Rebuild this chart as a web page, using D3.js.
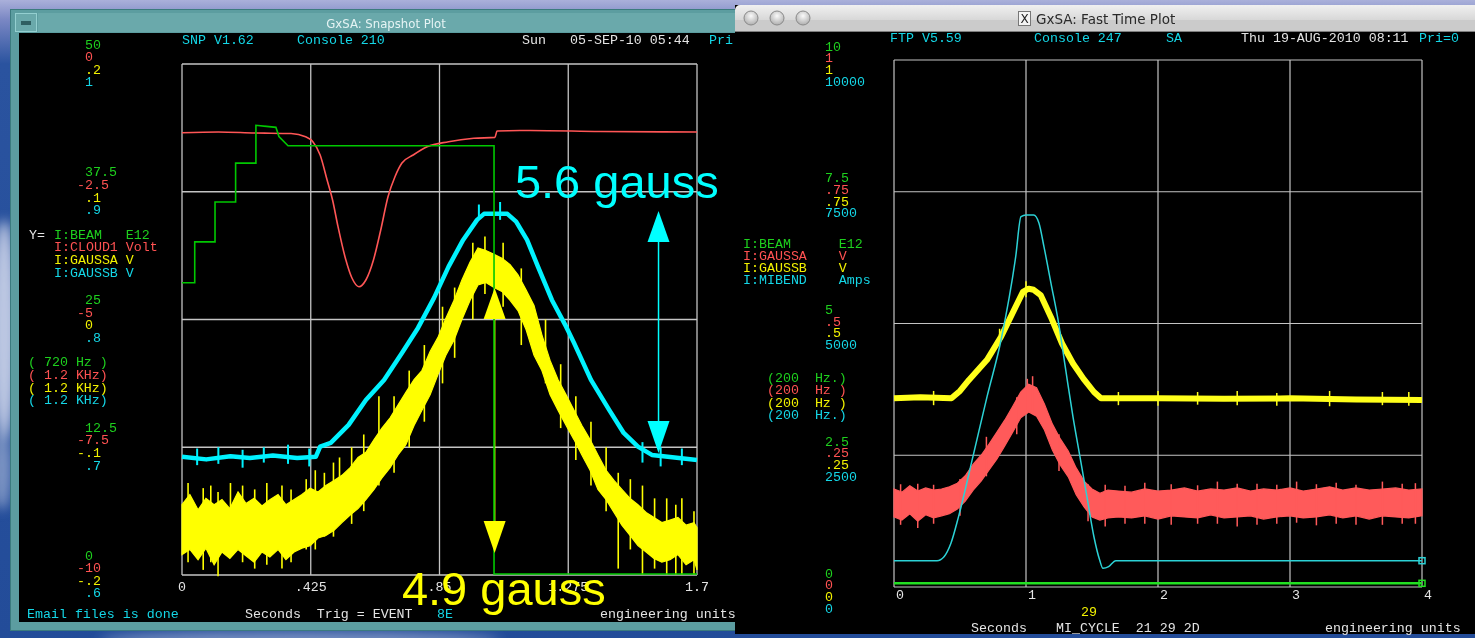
<!DOCTYPE html>
<html>
<head>
<meta charset="utf-8">
<script src="https://cdn.jsdelivr.net/npm/d3@7"></script>
<style>
  html, body { margin: 0; padding: 0; background: #1f4a98; overflow: hidden; }
  text { white-space: pre; }
</style>
</head>
<body>
<div id="chart"></div>
<script>
// ── left window: GxSA Snapshot Plot (x in seconds) ─────────────────
const leftXTicks   = [0, 0.425, 0.85, 1.275, 1.7]
const leftXLabels  = ['0', '.425', '.85', '1.275', '1.7']
const leftBeamTicks  = [0, 12.5, 25, 37.5, 50]
const leftBeamLabels = ['0', '12.5', '25', '37.5', '50']
const leftCloudLabels  = ['-10', '-7.5', '-5', '-2.5', '0']
const leftGaussALabels = ['-.2', '-.1', '0', '.1', '.2']
const leftGaussBLabels = ['.6', '.7', '.8', '.9', '1']
const leftLegend = ['I:BEAM   E12', 'I:CLOUD1 Volt', 'I:GAUSSA V', 'I:GAUSSB V']
const leftRates  = ['( 720 Hz )', '( 1.2 KHz)', '( 1.2 KHz)', '( 1.2 KHz)']

// I:BEAM (E12) [t, value]
const beamLeft = [
  [0, 28.6], [0.042, 28.6], [0.042, 32.6], [0.109, 32.6], [0.109, 36.5], [0.177, 36.5],
  [0.177, 40.3], [0.244, 40.3], [0.244, 44.0], [0.31, 43.8], [0.32, 42.9], [0.35, 42.0],
  [1.03, 42.0], [1.03, 0.1], [1.7, 0.1]
]
// I:CLOUD1 (Volt) [t, value]
const cloudLeft = [
  [0, -1.345], [0.12, -1.33], [0.24, -1.35], [0.36, -1.36], [0.408, -1.423], [0.432, -1.521],
  [0.456, -1.781], [0.479, -2.27], [0.497, -2.662], [0.515, -3.184], [0.538, -3.771],
  [0.561, -4.188], [0.584, -4.358], [0.607, -4.227], [0.632, -3.836], [0.656, -3.249],
  [0.68, -2.597], [0.703, -2.206], [0.726, -1.938], [0.763, -1.781], [0.809, -1.619],
  [0.88, -1.521], [0.963, -1.454], [1.033, -1.435], [1.04, -1.311], [1.149, -1.3],
  [1.38, -1.32], [1.7, -1.33]
]
// I:GAUSSB (V) [t, value]
const gaussBLeft = [
  [0, 0.6926], [0.08, 0.6905], [0.16, 0.693], [0.224, 0.6916], [0.3, 0.6935], [0.38, 0.6915],
  [0.442, 0.6926], [0.456, 0.7005], [0.491, 0.7034], [0.55, 0.7175], [0.607, 0.737],
  [0.667, 0.7527], [0.726, 0.7738], [0.779, 0.7934], [0.832, 0.8169], [0.88, 0.8414],
  [0.928, 0.8623], [0.974, 0.878], [0.997, 0.8827], [1.074, 0.8827], [1.103, 0.8766],
  [1.139, 0.8623], [1.175, 0.8414], [1.221, 0.8153], [1.268, 0.7944], [1.294, 0.7817],
  [1.35, 0.7527], [1.41, 0.7292], [1.458, 0.7112], [1.505, 0.7005], [1.551, 0.694],
  [1.611, 0.6924], [1.7, 0.69]
]
const gaussBLeftSpikes = [
  [0.05, 0.699, 0.686], [0.12, 0.700, 0.687], [0.2, 0.698, 0.684], [0.27, 0.700, 0.688],
  [0.35, 0.702, 0.687], [0.42, 0.699, 0.685], [0.98, 0.890, 0.880], [1.05, 0.892, 0.878],
  [1.52, 0.704, 0.688], [1.58, 0.700, 0.685], [1.65, 0.699, 0.686]
]
// I:GAUSSA (V) noisy band [t, top, bottom]
const gaussALeft = [
  [0, -.145, -.184], [.026, -.137, -.180], [.053, -.149, -.188], [.079, -.140, -.179],
  [.106, -.145, -.192], [.132, -.141, -.182], [.158, -.148, -.187], [.185, -.135, -.180],
  [.211, -.144, -.185], [.238, -.140, -.190], [.264, -.146, -.182], [.290, -.141, -.186],
  [.317, -.137, -.180], [.343, -.145, -.188], [.370, -.141, -.182], [.396, -.137, -.179],
  [.423, -.132, -.177], [.449, -.135, -.171], [.475, -.130, -.169], [.502, -.126, -.165],
  [.528, -.122, -.159], [.555, -.116, -.153], [.581, -.108, -.148], [.607, -.104, -.141],
  [.634, -.094, -.133], [.660, -.085, -.124], [.687, -.077, -.116], [.713, -.067, -.106],
  [.739, -.057, -.098], [.766, -.047, -.083], [.792, -.040, -.071], [.819, -.025, -.059],
  [.845, -.014, -.043], [.871, .001, -.028], [.898, .015, -.016], [.924, .031, .000],
  [.951, .045, .015], [.977, .056, .027], [1.003, .054, .029], [1.030, .051, .025],
  [1.056, .048, .022], [1.083, .043, .015], [1.109, .035, .007], [1.136, .023, -.008],
  [1.162, .011, -.028], [1.188, -.012, -.040], [1.215, -.032, -.059], [1.241, -.047, -.071],
  [1.268, -.059, -.083], [1.294, -.071, -.094], [1.320, -.083, -.106], [1.347, -.094, -.118],
  [1.373, -.106, -.133], [1.400, -.118, -.141], [1.426, -.126, -.151], [1.452, -.133, -.161],
  [1.479, -.140, -.169], [1.505, -.145, -.177], [1.532, -.151, -.182], [1.558, -.155, -.187],
  [1.584, -.159, -.190], [1.611, -.157, -.188], [1.637, -.155, -.184], [1.664, -.161, -.192],
  [1.690, -.159, -.188], [1.700, -.163, -.196]
]
const gaussALeftSpikes = [
  [0.02, -0.128, -0.19], [0.07, -0.132, -0.196], [0.095, -0.13, -0.19], [0.119, -0.135, -0.201],
  [0.16, -0.128, -0.186], [0.2, -0.13, -0.19], [0.24, -0.133, -0.195], [0.28, -0.128, -0.192],
  [0.33, -0.13, -0.195], [0.36, -0.133, -0.19], [0.41, -0.125, -0.18], [0.44, -0.118, -0.18],
  [0.47, -0.12, -0.17], [0.5, -0.112, -0.17], [0.52, -0.108, -0.15], [0.56, -0.1, -0.16],
  [0.6, -0.09, -0.15], [0.65, -0.06, -0.13], [0.7, -0.06, -0.12], [0.75, -0.04, -0.1],
  [0.8, -0.02, -0.08], [0.86, 0.01, -0.05], [0.9, 0.025, -0.03], [0.96, 0.06, 0.0],
  [1.0, 0.065, 0.02], [1.06, 0.06, 0.01], [1.12, 0.04, -0.02], [1.2, 0.0, -0.05],
  [1.25, -0.035, -0.085], [1.3, -0.06, -0.11], [1.35, -0.08, -0.13], [1.4, -0.1, -0.15],
  [1.44, -0.12, -0.195], [1.48, -0.125, -0.18], [1.52, -0.13, -0.2], [1.56, -0.14, -0.195],
  [1.6, -0.14, -0.2], [1.63, -0.145, -0.2], [1.65, -0.14, -0.2], [1.69, -0.15, -0.2]
]
// hand-drawn notes over the snapshot: arrow from low to high value of one trace
const leftNotes = [
  { label: '5.6 gauss', trace: 'gaussB', t: 1.573, lo: 0.6955, hi: 0.885, labelT: 1.099, labelV: 0.895, color: '#00ffff' },
  { label: '4.9 gauss', trace: 'gaussA', t: 1.032, lo: -0.1828, hi: 0.0247, labelT: 0.726, labelV: -0.2235, color: '#ffff00' }
]

// ── right window: GxSA Fast Time Plot ──────────────────────────────
const rightXTicks  = [0, 1, 2, 3, 4]
const rightBeamTicks  = [0, 2.5, 5, 7.5, 10]
const rightBeamLabels = ['0', '2.5', '5', '7.5', '10']
const rightGaussALabels = ['0', '.25', '.5', '.75', '1']
const rightGaussBLabels = ['0', '.25', '.5', '.75', '1']
const rightMibendLabels = ['0', '2500', '5000', '7500', '10000']
const rightLegend = ['I:BEAM      E12', 'I:GAUSSA    V', 'I:GAUSSB    V', 'I:MIBEND    Amps']
const rightRates  = ['(200  Hz.)', '(200  Hz )', '(200  Hz )', '(200  Hz.)']

const beamRight = [[0, 0.07], [1, 0.07], [2, 0.07], [3, 0.07], [4, 0.07]]
const gaussBRight = [
  [0, .358], [0.2, .360], [0.435, .358], [0.50, .372], [0.568, .393], [0.705, .431],
  [0.811, .475], [0.922, .532], [0.977, .560], [1.02, .566], [1.058, .564], [1.111, .554],
  [1.189, .512], [1.273, .462], [1.356, .424], [1.436, .395], [1.515, .370], [1.568, .358],
  [2.0, .358], [2.5, .357], [3.0, .358], [3.5, .356], [4, .355]
]
const gaussBRightSpikes = [
  [0.3, .372, .345], [0.8, .49, .462], [1.0, .58, .55], [1.7, .37, .345], [2.0, .372, .344],
  [2.3, .37, .346], [2.6, .372, .345], [2.9, .368, .344], [3.3, .372, .343], [3.7, .37, .345],
  [3.9, .37, .344]
]
const mibendRight = [
  [0, 499], [0.326, 499], [0.379, 575], [0.432, 835], [0.489, 1335], [0.598, 2474],
  [0.705, 3612], [0.811, 4687], [0.922, 6268], [0.962, 7027], [1.0, 7058], [1.058, 7058],
  [1.098, 6906], [1.136, 6458], [1.189, 5768], [1.247, 5009], [1.301, 4118], [1.356, 3227],
  [1.409, 2467], [1.462, 1708], [1.515, 949], [1.558, 512], [1.583, 354], [1.626, 386],
  [1.68, 499], [4, 499]
]
// I:GAUSSA noisy band [t, top, bottom]
const gaussARight = [
  [0, .186, .133], [.06, .180, .127], [.12, .192, .139], [.18, .182, .125], [.24, .188, .137],
  [.30, .184, .131], [.36, .186, .135], [.42, .190, .139], [.48, .197, .148], [.54, .211, .163],
  [.60, .233, .184], [.66, .250, .201], [.72, .271, .222], [.78, .294, .243], [.84, .317, .268],
  [.90, .343, .294], [.96, .370, .321], [1.02, .385, .332], [1.08, .378, .324], [1.14, .347, .298],
  [1.20, .309, .260], [1.26, .281, .231], [1.32, .258, .209], [1.38, .226, .175], [1.44, .201, .152],
  [1.50, .186, .133], [1.56, .178, .127], [1.62, .184, .131], [1.7, .182, .133], [1.8, .180, .131],
  [1.9, .186, .135], [2.0, .182, .129], [2.1, .184, .135], [2.2, .188, .133], [2.3, .182, .131],
  [2.4, .186, .137], [2.5, .184, .131], [2.6, .188, .133], [2.7, .182, .135], [2.8, .186, .129],
  [2.9, .184, .133], [3.0, .188, .135], [3.1, .182, .131], [3.2, .186, .133], [3.3, .190, .137],
  [3.4, .184, .131], [3.5, .188, .135], [3.6, .184, .129], [3.7, .186, .135], [3.8, .188, .133],
  [3.9, .184, .131], [4.0, .186, .135]
]
const gaussARightSpikes = [
  [0.05, .195, .118], [0.18, .196, .112], [0.3, .194, .12], [0.5, .205, .135], [0.7, .285, .21],
  [0.93, .36, .29], [1.01, .395, .33], [1.05, .40, .33], [1.25, .29, .22], [1.47, .195, .125],
  [1.6, .194, .115], [1.75, .192, .12], [1.9, .198, .12], [2.1, .195, .118], [2.3, .193, .12],
  [2.45, .2, .12], [2.6, .196, .115], [2.75, .196, .118], [2.9, .194, .12], [3.05, .2, .122],
  [3.2, .195, .117], [3.35, .198, .12], [3.5, .194, .118], [3.7, .2, .118], [3.85, .196, .12],
  [3.95, .197, .12]
]

// ── colours / fonts ────────────────────────────────────────────────
const MONO = "'Liberation Mono', 'DejaVu Sans Mono', monospace"
const C = { green: '#1ed01e', red: '#ff5252', yellow: '#f2f200', cyan: '#14d6e6', white: '#e4e4e4', grid: '#c4c4c4' }

const svg = d3.select('#chart').append('svg').attr('width', 1475).attr('height', 638)
const defs = svg.append('defs')

// ── desktop background ─────────────────────────────────────────────
const sky = defs.append('linearGradient').attr('id', 'sky').attr('x1', 0).attr('y1', 0).attr('x2', 0).attr('y2', 1)
sky.append('stop').attr('offset', '0%').attr('stop-color', '#aab0da')
sky.append('stop').attr('offset', '3%').attr('stop-color', '#7b88c4')
sky.append('stop').attr('offset', '10%').attr('stop-color', '#2a539f')
sky.append('stop').attr('offset', '100%').attr('stop-color', '#234c99')
svg.append('rect').attr('width', 1475).attr('height', 638).attr('fill', 'url(#sky)')
defs.append('filter').attr('id', 'soft').append('feGaussianBlur').attr('stdDeviation', 6)
const clouds = svg.append('g').attr('filter', 'url(#soft)').attr('fill', '#d6dcee')
clouds.append('ellipse').attr('cx', 4).attr('cy', 330).attr('rx', 14).attr('ry', 110).attr('opacity', 0.85)
clouds.append('ellipse').attr('cx', 2).attr('cy', 470).attr('rx', 10).attr('ry', 40).attr('opacity', 0.5)
clouds.append('ellipse').attr('cx', 300).attr('cy', 640).attr('rx', 200).attr('ry', 8).attr('opacity', 0.5)

// ── left window frame ──────────────────────────────────────────────
const lw = svg.append('g')
lw.append('rect').attr('x', 10.5).attr('y', 9.5).attr('width', 740).attr('height', 621)
  .attr('fill', '#5c9da0').attr('stroke', '#3b7b7e')
lw.append('rect').attr('x', 38).attr('y', 13).attr('width', 700).attr('height', 19).attr('fill', '#6aa9ab')
lw.append('rect').attr('x', 15.5).attr('y', 13.5).attr('width', 21).attr('height', 18)
  .attr('fill', '#6aa9ab').attr('stroke', '#94cfd0')
lw.append('rect').attr('x', 21).attr('y', 21).attr('width', 10).attr('height', 4).attr('fill', '#2f5f62')
lw.append('text').attr('x', 386).attr('y', 23).attr('text-anchor', 'middle').attr('dominant-baseline', 'central')
  .attr('font-family', "'DejaVu Sans Condensed', 'DejaVu Sans', sans-serif").attr('font-size', 13)
  .attr('fill', '#e6f4f4').text('GxSA: Snapshot Plot')
lw.append('rect').attr('x', 19).attr('y', 33).attr('width', 720).attr('height', 589).attr('fill', '#000')

// ── right window frame ─────────────────────────────────────────────
const tb = defs.append('linearGradient').attr('id', 'tbar').attr('x1', 0).attr('y1', 0).attr('x2', 0).attr('y2', 1)
tb.append('stop').attr('offset', '0%').attr('stop-color', '#f0f0f0')
tb.append('stop').attr('offset', '100%').attr('stop-color', '#c6c6c6')
const btn = defs.append('radialGradient').attr('id', 'btn').attr('cx', '50%').attr('cy', '35%').attr('r', '60%')
btn.append('stop').attr('offset', '0%').attr('stop-color', '#fafafa')
btn.append('stop').attr('offset', '100%').attr('stop-color', '#b4b4b4')

const rw = svg.append('g')
rw.append('rect').attr('x', 735).attr('y', 5).attr('width', 745).attr('height', 629).attr('fill', '#000')
rw.append('rect').attr('x', 735).attr('y', 5).attr('width', 745).attr('height', 26).attr('rx', 5).attr('fill', 'url(#tbar)')
rw.append('rect').attr('x', 735).attr('y', 20).attr('width', 745).attr('height', 11).attr('fill', '#cbcbcb')
rw.append('line').attr('x1', 735).attr('x2', 1475).attr('y1', 31.5).attr('y2', 31.5).attr('stroke', '#7d7d7d')
;[751, 777, 803].forEach(cx => {
  rw.append('circle').attr('cx', cx).attr('cy', 18).attr('r', 7)
    .attr('fill', 'url(#btn)').attr('stroke', '#8a8a8a')
})
rw.append('rect').attr('x', 1018.5).attr('y', 11.5).attr('width', 12).attr('height', 14)
  .attr('fill', '#f4f4f4').attr('stroke', '#777')
rw.append('text').attr('x', 1024.5).attr('y', 19).attr('text-anchor', 'middle').attr('dominant-baseline', 'central')
  .attr('font-family', 'DejaVu Sans, sans-serif').attr('font-size', 12).attr('fill', '#222').text('X')
rw.append('text').attr('x', 1036).attr('y', 19).attr('dominant-baseline', 'central')
  .attr('font-family', "'DejaVu Sans', sans-serif").attr('font-size', 13.5)
  .attr('fill', '#2a2a2a').text('GxSA: Fast Time Plot')

// text helper, X11 style fixed font
function label(g, x, y, s, color, anchor = 'start') {
  return g.append('text').attr('x', x).attr('y', y)
    .attr('text-anchor', anchor).attr('dominant-baseline', 'central')
    .attr('font-family', MONO).attr('font-size', 13.3).attr('fill', color).text(s)
}
const line = (xS, yS) => d3.line().x(d => xS(d[0])).y(d => yS(d[1]))
const band = (xS, yS) => d3.area().x(d => xS(d[0])).y0(d => yS(d[2])).y1(d => yS(d[1]))
function spikes(g, data, xS, yS, color, width) {
  g.append('g').selectAll('line').data(data).join('line')
    .attr('x1', d => xS(d[0])).attr('x2', d => xS(d[0]))
    .attr('y1', d => yS(d[1])).attr('y2', d => yS(d[2]))
    .attr('stroke', color).attr('stroke-width', width)
}

// ── LEFT PLOT ──────────────────────────────────────────────────────
const xL = d3.scaleLinear().domain([0, 1.7]).range([182, 697])
const yBeamL   = d3.scaleLinear().domain([0, 50]).range([575, 64])
const yCloudL  = d3.scaleLinear().domain([-10, 0]).range([575, 64])
const yGaussAL = d3.scaleLinear().domain([-0.2, 0.2]).range([575, 64])
const yGaussBL = d3.scaleLinear().domain([0.6, 1]).range([575, 64])
const leftScale = { gaussA: yGaussAL, gaussB: yGaussBL }

const gl = svg.append('g')
gl.selectAll('line.vg').data(leftXTicks).join('line').attr('class', 'vg')
  .attr('x1', d => xL(d)).attr('x2', d => xL(d)).attr('y1', yBeamL(50)).attr('y2', yBeamL(0))
  .attr('stroke', C.grid).attr('stroke-width', 1.3)
gl.selectAll('line.hg').data(leftBeamTicks).join('line').attr('class', 'hg')
  .attr('x1', xL(0)).attr('x2', xL(1.7)).attr('y1', d => yBeamL(d)).attr('y2', d => yBeamL(d))
  .attr('stroke', C.grid).attr('stroke-width', 1.3)

label(gl, 182, 40, 'SNP V1.62', C.cyan)
label(gl, 297, 40, 'Console 210', C.cyan)
label(gl, 522, 40, 'Sun', C.white)
label(gl, 570, 40, '05-SEP-10 05:44', C.white)
label(gl, 709, 40, 'Pri', C.cyan)

// stacked y labels: beam / cloud / gaussA / gaussB
const leftColors = [C.green, C.red, C.yellow, C.cyan]
leftBeamTicks.forEach((tk, i) => {
  const gy = yBeamL(tk)
  ;[leftBeamLabels[i], leftCloudLabels[i], leftGaussALabels[i], leftGaussBLabels[i]].forEach((s, k) => {
    label(gl, s.startsWith('-') ? 77 : 85, gy + (k - 1.5) * 12.6, s, leftColors[k])
  })
})
label(gl, 29, 235, 'Y=', C.white)
leftLegend.forEach((s, k) => label(gl, 54, 235 + k * 12.7, s, leftColors[k]))
leftRates.forEach((s, k) => label(gl, 28, 362.7 + k * 12.7, s, leftColors[k]))

leftXTicks.forEach((tk, i) => label(gl, xL(tk), 587, leftXLabels[i], C.white, 'middle'))
label(gl, 27, 614, 'Email files is done', C.cyan)
label(gl, 245, 614, 'Seconds  Trig = EVENT', C.white)
label(gl, 437, 614, '8E', C.cyan)
label(gl, 600, 614, 'engineering units', C.white)

// annotation shafts go under the traces
leftNotes.forEach(n => {
  const yS = leftScale[n.trace]
  gl.append('line').attr('x1', xL(n.t)).attr('x2', xL(n.t))
    .attr('y1', yS(n.hi) + 28).attr('y2', yS(n.lo) - 30)
    .attr('stroke', n.color).attr('stroke-width', 1.5)
})

gl.append('path').datum(gaussALeft).attr('d', band(xL, yGaussAL))
  .attr('fill', '#ffff00').attr('stroke', '#ffff00').attr('stroke-width', 1.2)
spikes(gl, gaussALeftSpikes, xL, yGaussAL, '#ffff00', 1.6)
gl.append('path').datum(gaussBLeft).attr('d', line(xL, yGaussBL))
  .attr('fill', 'none').attr('stroke', '#00f2ff').attr('stroke-width', 4.5).attr('stroke-linejoin', 'round')
spikes(gl, gaussBLeftSpikes, xL, yGaussBL, '#00f2ff', 2)
gl.append('path').datum(cloudLeft).attr('d', line(xL, yCloudL).curve(d3.curveMonotoneX))
  .attr('fill', 'none').attr('stroke', '#ff5656').attr('stroke-width', 1.6)
gl.append('path').datum(beamLeft).attr('d', line(xL, yBeamL))
  .attr('fill', 'none').attr('stroke', '#00c800').attr('stroke-width', 1.6)

// arrowheads and big labels on top
leftNotes.forEach(n => {
  const yS = leftScale[n.trace], x = xL(n.t), yHi = yS(n.hi), yLo = yS(n.lo)
  gl.append('path').attr('d', `M${x},${yHi} l-11,31 h22 Z`).attr('fill', n.color)
  gl.append('path').attr('d', `M${x},${yLo} l-11,-32 h22 Z`).attr('fill', n.color)
  gl.append('text').attr('x', xL(n.labelT)).attr('y', yS(n.labelV))
    .attr('font-family', "'Liberation Sans', Arial, sans-serif").attr('font-size', 47)
    .attr('fill', n.color).text(n.label)
})

// ── RIGHT PLOT ─────────────────────────────────────────────────────
const xR = d3.scaleLinear().domain([0, 4]).range([894, 1422])
const yBeamR   = d3.scaleLinear().domain([0, 10]).range([587, 60])
const yGaussAR = d3.scaleLinear().domain([0, 1]).range([587, 60])
const yGaussBR = d3.scaleLinear().domain([0, 1]).range([587, 60])
const yMibendR = d3.scaleLinear().domain([0, 10000]).range([587, 60])

const gr = svg.append('g')
gr.selectAll('line.vg').data(rightXTicks).join('line').attr('class', 'vg')
  .attr('x1', d => xR(d)).attr('x2', d => xR(d)).attr('y1', yBeamR(10)).attr('y2', yBeamR(0))
  .attr('stroke', C.grid).attr('stroke-width', 1.2)
gr.selectAll('line.hg').data(rightBeamTicks).join('line').attr('class', 'hg')
  .attr('x1', xR(0)).attr('x2', xR(4)).attr('y1', d => yBeamR(d)).attr('y2', d => yBeamR(d))
  .attr('stroke', C.grid).attr('stroke-width', 1.2)

label(gr, 890, 38, 'FTP V5.59', C.cyan)
label(gr, 1034, 38, 'Console 247', C.cyan)
label(gr, 1166, 38, 'SA', C.cyan)
label(gr, 1241, 38, 'Thu 19-AUG-2010 08:11', C.white)
label(gr, 1419, 38, 'Pri=0', C.cyan)

const rightColors = [C.green, C.red, C.yellow, C.cyan]
rightBeamTicks.forEach((tk, i) => {
  const gy = yBeamR(tk)
  ;[rightBeamLabels[i], rightGaussALabels[i], rightGaussBLabels[i], rightMibendLabels[i]].forEach((s, k) => {
    label(gr, 825, gy - 13 + k * 11.7, s, rightColors[k])
  })
})
rightLegend.forEach((s, k) => label(gr, 743, 244 + k * 12, s, rightColors[k]))
rightRates.forEach((s, k) => label(gr, 767, 378 + k * 12.5, s, rightColors[k]))

rightXTicks.forEach(tk => label(gr, xR(tk) + 2, 595, String(tk), C.white))
label(gr, 1081, 612, '29', C.yellow)
label(gr, 971, 628, 'Seconds', C.white)
label(gr, 1056, 628, 'MI_CYCLE  21 29 2D', C.white)
label(gr, 1325, 628, 'engineering units', C.white)

gr.append('path').datum(gaussARight).attr('d', band(xR, yGaussAR))
  .attr('fill', '#ff5a5a').attr('stroke', '#ff5a5a').attr('stroke-width', 1.2)
spikes(gr, gaussARightSpikes, xR, yGaussAR, '#ff5a5a', 1.5)
gr.append('path').datum(gaussBRight).attr('d', line(xR, yGaussBR))
  .attr('fill', 'none').attr('stroke', '#ffff1a').attr('stroke-width', 6).attr('stroke-linejoin', 'round')
spikes(gr, gaussBRightSpikes, xR, yGaussBR, '#ffff1a', 1.5)
gr.append('path').datum(mibendRight).attr('d', line(xR, yMibendR).curve(d3.curveMonotoneX))
  .attr('fill', 'none').attr('stroke', '#2cd2d6').attr('stroke-width', 1.5)
gr.append('path').datum(beamRight).attr('d', line(xR, yBeamR))
  .attr('fill', 'none').attr('stroke', '#22e022').attr('stroke-width', 2.5)

// end-of-trace markers
;[[mibendRight, yMibendR, '#2cd2d6'], [beamRight, yBeamR, '#22e022']].forEach(([s, yS, c]) => {
  const last = s[s.length - 1]
  gr.append('rect').attr('x', xR(last[0]) - 3).attr('y', yS(last[1]) - 3)
    .attr('width', 6).attr('height', 6).attr('fill', 'none').attr('stroke', c).attr('stroke-width', 1.5)
})
</script>
</body>
</html>
